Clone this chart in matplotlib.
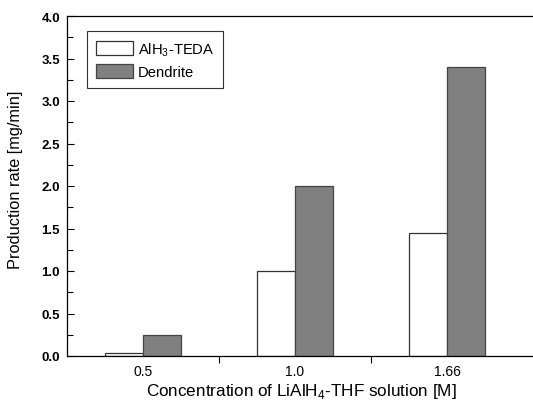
import matplotlib
matplotlib.use("Agg")
import matplotlib.pyplot as plt
import numpy as np

plt.rcParams['font.family'] = ['Liberation Sans', 'DejaVu Sans']
plt.rcParams['mathtext.fontset'] = 'custom'
plt.rcParams['mathtext.rm'] = 'Liberation Sans'

concentrations = ['0.5', '1.0', '1.66']
teda = [0.04, 1.0, 1.45]
dendrite = [0.25, 2.0, 3.4]

W = 500  # axes width in px; the plot runs past the right edge of the image
fig = plt.figure(figsize=(5.33, 4.02), dpi=100)
ax = fig.add_axes([67/533, 45/402, W/533, 340/402])

x = np.arange(1, len(concentrations) + 1)
w = 0.25
ax.bar(x - w/2, teda, w, color='white', edgecolor='#333333', linewidth=0.9,
       label=r'AlH$_\mathregular{3}$-TEDA')
ax.bar(x + w/2, dendrite, w, color='#808080', edgecolor='#444444', linewidth=0.9,
       label='Dendrite')

ax.set_xlim(0.5, 0.5 + W/152)
ax.set_ylim(0, 4.0)
ax.spines['right'].set_visible(False)

ax.set_xticks([1.5, 2.5])
ax.set_xticklabels([])
ax.set_xticks(x, minor=True)
ax.set_xticklabels(concentrations, minor=True, fontsize=10)
ax.tick_params(axis='x', which='major', direction='out', length=5, width=0.8)
ax.tick_params(axis='x', which='minor', length=0, pad=6)

ax.set_yticks(np.arange(0, 4.01, 0.5))
ax.set_yticks(np.arange(0.25, 4.0, 0.5), minor=True)
ax.set_yticklabels([f'{v:.1f}' for v in np.arange(0, 4.01, 0.5)],
                   fontsize=9.5, fontweight='bold')
ax.tick_params(axis='y', which='major', direction='in', length=5, width=0.8, pad=5)
ax.tick_params(axis='y', which='minor', direction='in', length=4, width=0.8)

for s in ax.spines.values():
    s.set_linewidth(0.9)

ax.set_ylabel('Production rate [mg/min]', fontsize=11.8)
ax.yaxis.label.set_verticalalignment('baseline')
ax.yaxis.set_label_coords((20 - 67)/W, (357 - 180)/340)

ax.set_xlabel(r'Concentration of LiAlH$_\mathregular{4}$-THF solution [M]',
              fontsize=12.3)
ax.xaxis.label.set_verticalalignment('baseline')
ax.xaxis.set_label_coords((301 - 67)/W, -(396 - 357)/340)

leg = ax.legend(loc='upper left', bbox_to_anchor=(20/W, 1 - 15/340), fontsize=10.6,
                fancybox=False, edgecolor='#333333', framealpha=1,
                handlelength=2.5, handleheight=1.1, borderaxespad=0,
                labelspacing=0.42, handletextpad=0.35, borderpad=0.6)
leg.get_frame().set_linewidth(0.8)

fig.savefig('out.png', dpi=100)
